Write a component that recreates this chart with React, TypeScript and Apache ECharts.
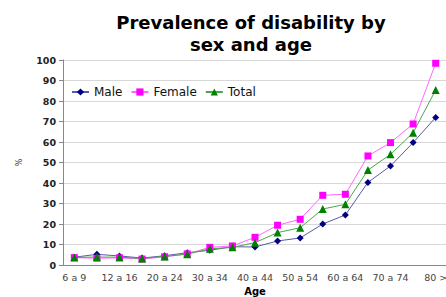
import React, { useEffect, useRef } from "react";
import * as echarts from "echarts";

const categories = [
  "6 a 9", "10 a 11", "12 a 16", "17 a 19", "20 a 24", "25 a 29", "30 a 34", "35 a 39",
  "40 a 44", "45 a 49", "50 a 54", "55 a 59", "60 a 64", "65 a 69", "70 a 74", "75 a 79", "80 >",
];
const male = [3.8, 5.2, 4.4, 3.4, 4.5, 6.0, 7.2, 8.9, 8.8, 11.7, 13.2, 20.0, 24.4, 40.3, 48.3, 59.7, 72.0];
const female = [3.6, 3.3, 3.5, 2.9, 4.0, 5.4, 8.6, 9.3, 13.5, 19.4, 22.3, 34.0, 34.5, 53.2, 59.7, 68.8, 98.4];
const total = [3.7, 3.9, 3.8, 3.2, 4.2, 5.3, 7.9, 8.6, 10.9, 15.8, 18.2, 27.3, 29.6, 46.3, 54.0, 64.5, 85.4];
const yTicks = { min: 0, max: 100, interval: 10 };

const FONT = "DejaVu Sans";

export default function App() {
  const ref = useRef<HTMLDivElement>(null);
  useEffect(() => {
    if (!ref.current) return;
    const chart = echarts.init(ref.current, null, { renderer: "svg" });
    chart.setOption({
      animation: false,
      backgroundColor: "#ffffff",
      title: {
        text: "Prevalence of disability by\nsex and age",
        left: 246,
        top: 6,
        textAlign: "center",
        textStyle: {
          fontFamily: FONT,
          fontWeight: "bold",
          fontSize: 18,
          lineHeight: 22,
          color: "#000",
        },
      },
      legend: {
        left: 66,
        top: 81,
        itemWidth: 17,
        itemHeight: 9,
        itemGap: 8,
        textStyle: { fontFamily: FONT, fontSize: 12, color: "#111" },
        data: ["Male", "Female", "Total"],
      },
      grid: {
        left: 63,
        top: 60,
        width: 384,
        height: 205,
        containLabel: false,
        outerBoundsMode: "none",
      },
      xAxis: {
        type: "category",
        data: categories,
        boundaryGap: true,
        name: "Age",
        nameLocation: "middle",
        nameGap: 21,
        nameTextStyle: { fontFamily: FONT, fontWeight: "bold", fontSize: 10, color: "#000" },
        axisLine: { lineStyle: { color: "#888" } },
        axisTick: { interval: 0, length: 4, lineStyle: { color: "#888" } },
        axisLabel: {
          interval: 1,
          fontFamily: FONT,
          fontSize: 9.5,
          color: "#444",
          margin: 7,
        },
      },
      yAxis: {
        type: "value",
        min: yTicks.min,
        max: yTicks.max,
        interval: yTicks.interval,
        name: "%",
        nameLocation: "middle",
        nameRotate: 90,
        nameGap: 40,
        nameTextStyle: { fontFamily: FONT, fontSize: 8, color: "#333" },
        axisLine: { show: true, lineStyle: { color: "#888" } },
        axisTick: { show: true, length: 4, lineStyle: { color: "#888" } },
        axisLabel: {
          fontFamily: FONT,
          fontSize: 9.5,
          fontWeight: "bold",
          color: "#222",
          margin: 7,
        },
        splitLine: { lineStyle: { color: "#d8d8d8" } },
      },
      series: [
        {
          name: "Male",
          type: "line",
          data: male,
          symbol: "diamond",
          symbolSize: 7,
          color: "#000080",
          lineStyle: { width: 1, color: "#5a5aa8" },
          itemStyle: { color: "#000080" },
        },
        {
          name: "Female",
          type: "line",
          data: female,
          symbol: "rect",
          symbolSize: 7,
          color: "#ff00ff",
          lineStyle: { width: 1, color: "#ff66ff" },
          itemStyle: { color: "#ff00ff" },
        },
        {
          name: "Total",
          type: "line",
          data: total,
          symbol: "triangle",
          symbolSize: 8,
          color: "#008000",
          lineStyle: { width: 1, color: "#4ca64c" },
          itemStyle: { color: "#008000" },
        },
      ],
    });
    return () => chart.dispose();
  }, []);
  return (
    <div
      ref={ref}
      style={{ position: "fixed", left: 0, top: 0, width: 446, height: 297, background: "#fff" }}
    />
  );
}
